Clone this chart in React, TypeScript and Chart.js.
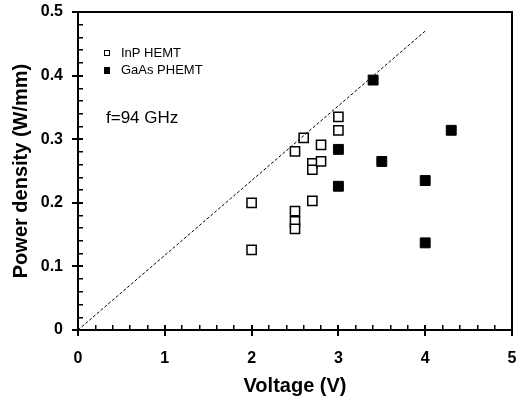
import React, { useEffect, useRef } from "react";
import { Chart, registerables } from "chart.js";

Chart.register(...registerables);

const inpVoltage = [2.0, 2.0, 2.5, 2.5, 2.5, 2.5, 2.6, 2.7, 2.7, 2.7, 2.8, 2.8, 3.0, 3.0];
const inpPower = [0.2, 0.126, 0.281, 0.187, 0.171, 0.159, 0.302, 0.262, 0.252, 0.203, 0.291, 0.265, 0.335, 0.314];

const gaasVoltage = [3.4, 3.0, 3.0, 3.5, 4.3, 4.0, 4.0];
const gaasPower = [0.393, 0.284, 0.226, 0.265, 0.314, 0.235, 0.137];

const limitVoltage = [0, 4.0];
const limitPower = [0, 0.47];

const xTicks = [0, 1, 2, 3, 4, 5];
const yTicks = [0, 0.1, 0.2, 0.3, 0.4, 0.5];
const xMinorStep = 0.2;
const yMinorStep = 0.02;

const seriesLabels = ["InP HEMT", "GaAs PHEMT"];
const annotationText = "f=94 GHz";
const xTitle = "Voltage (V)";
const yTitle = "Power density (W/mm)";

const FONT = "'Liberation Sans', Arial, Helvetica, sans-serif";

const stepTicks = (min: number, max: number, step: number) =>
  Array.from({ length: Math.round((max - min) / step) + 1 }, (_, k) => ({ value: min + k * step }));

const isMajor = (v: number, every: number) => Math.abs(v / every - Math.round(v / every)) < 1e-6;

const zeroPad = (s: any) => {
  s.paddingLeft = 0;
  s.paddingRight = 0;
  s.paddingTop = 0;
  s.paddingBottom = 0;
};

const textPlugin = {
  id: "legendText",
  afterDraw(chart: any) {
    const ctx = chart.ctx;
    const xs = chart.scales.x;
    const ys = chart.scales.y;
    const L = Number(xs.left);
    const R = Number(xs.right);
    const T = Number(ys.top);
    const B = Number(ys.bottom);
    ctx.save();
    ctx.fillStyle = "#000";
    ctx.strokeStyle = "#000";
    ctx.fillRect(L - 1, T - 1, R - L + 2, 2);
    ctx.fillRect(R - 1, T - 1, 2, B - T + 2);
    ctx.textBaseline = "middle";
    ctx.textAlign = "left";
    ctx.font = `13px ${FONT}`;
    ctx.lineWidth = 1;
    ctx.strokeRect(104.5, 50.5, 5, 5);
    ctx.fillText(seriesLabels[0], 121, 53);
    ctx.fillRect(104, 67, 6, 7);
    ctx.fillText(seriesLabels[1], 121, 70);
    ctx.font = `17px ${FONT}`;
    ctx.fillText(annotationText, 106, 118);
    ctx.restore();
  },
};

export default function App() {
  const ref = useRef<HTMLCanvasElement | null>(null);
  useEffect(() => {
    if (!ref.current) return;
    const chart = new Chart(ref.current, {
      type: "scatter",
      data: {
        datasets: [
          {
            label: "limit",
            data: limitVoltage.map((x, i) => ({ x, y: limitPower[i] })),
            showLine: true,
            borderColor: "#000",
            borderWidth: 1,
            borderDash: [3, 2],
            pointRadius: 0,
            fill: false,
          } as any,
          {
            label: seriesLabels[0],
            data: inpVoltage.map((x, i) => ({ x, y: inpPower[i] })),
            pointStyle: "rect",
            pointRadius: 6.5,
            pointBorderWidth: 1.5,
            pointBorderColor: "#000",
            pointBackgroundColor: "#fff",
            showLine: false,
          },
          {
            label: seriesLabels[1],
            data: gaasVoltage.map((x, i) => ({ x, y: gaasPower[i] })),
            pointStyle: "rect",
            pointRadius: 7,
            pointBorderWidth: 1,
            pointBorderColor: "#000",
            pointBackgroundColor: "#000",
            showLine: false,
          },
        ],
      },
      options: {
        animation: false,
        responsive: false,
        layout: { padding: { top: 12, right: 5, left: 0, bottom: 0 } },
        plugins: { legend: { display: false }, tooltip: { enabled: false } },
        scales: {
          x: {
            type: "linear",
            position: "bottom",
            min: 0,
            max: 5,
            afterBuildTicks: (s: any) => {
              s.ticks = xTicks.map((v) => ({ value: v }));
            },
            afterFit: (s: any) => {
              s.height = 73;
              zeroPad(s);
            },
            ticks: {
              color: "#000",
              font: { family: FONT, size: 16, weight: "bold" },
              padding: 13,
              maxRotation: 0,
              callback: (v: any) => String(v),
            },
            grid: {
              display: true,
              drawOnChartArea: false,
              drawTicks: true,
              tickLength: 6,
              color: "#000",
              lineWidth: 2,
            },
            border: { display: true, color: "#000", width: 2 },
            title: {
              display: true,
              text: xTitle,
              color: "#000",
              font: { family: FONT, size: 20, weight: "bold" },
              padding: { top: 0, bottom: 5 },
            },
          },
          xMinor: {
            type: "linear",
            axis: "x",
            position: { y: 0 },
            min: 0,
            max: 5,
            afterBuildTicks: (s: any) => {
              s.ticks = stepTicks(0, 5, xMinorStep);
            },
            afterFit: (s: any) => {
              s.height = 0;
              zeroPad(s);
            },
            ticks: { display: false },
            grid: {
              display: true,
              drawOnChartArea: false,
              drawTicks: true,
              tickLength: -5,
              color: "#000",
              lineWidth: (c: any) => (c.tick && isMajor(c.tick.value, 1) ? 2 : 1.5),
            },
            border: { display: false },
          } as any,
          y: {
            type: "linear",
            position: "left",
            min: 0,
            max: 0.5,
            afterBuildTicks: (s: any) => {
              s.ticks = yTicks.map((v) => ({ value: v }));
            },
            afterFit: (s: any) => {
              s.width = 78;
              zeroPad(s);
            },
            ticks: {
              color: "#000",
              font: { family: FONT, size: 16, weight: "bold" },
              padding: 9,
              callback: (v: any) => (v === 0 ? "0" : Number(v).toFixed(1)),
            },
            grid: {
              display: true,
              drawOnChartArea: false,
              drawTicks: true,
              tickLength: 6,
              color: "#000",
              lineWidth: 2,
            },
            border: { display: true, color: "#000", width: 2 },
            title: {
              display: true,
              text: yTitle,
              color: "#000",
              font: { family: FONT, size: 20, weight: "bold" },
              padding: { top: 9, bottom: 0 },
            },
          },
          yMinor: {
            type: "linear",
            axis: "y",
            position: { x: 0 },
            min: 0,
            max: 0.5,
            afterBuildTicks: (s: any) => {
              s.ticks = stepTicks(0, 0.5, yMinorStep);
            },
            afterFit: (s: any) => {
              s.width = 0;
              zeroPad(s);
            },
            ticks: { display: false },
            grid: {
              display: true,
              drawOnChartArea: false,
              drawTicks: true,
              tickLength: -5,
              color: "#000",
              lineWidth: (c: any) => (c.tick && isMajor(c.tick.value, 0.1) ? 2 : 1.5),
            },
            border: { display: false },
          } as any,
        },
      },
      plugins: [textPlugin],
    });
    return () => chart.destroy();
  }, []);
  return (
    <div style={{ position: "absolute", left: 0, top: 0, width: 520, height: 403, background: "#fff" }}>
      <canvas ref={ref} width={520} height={403} style={{ display: "block" }} />
    </div>
  );
}
